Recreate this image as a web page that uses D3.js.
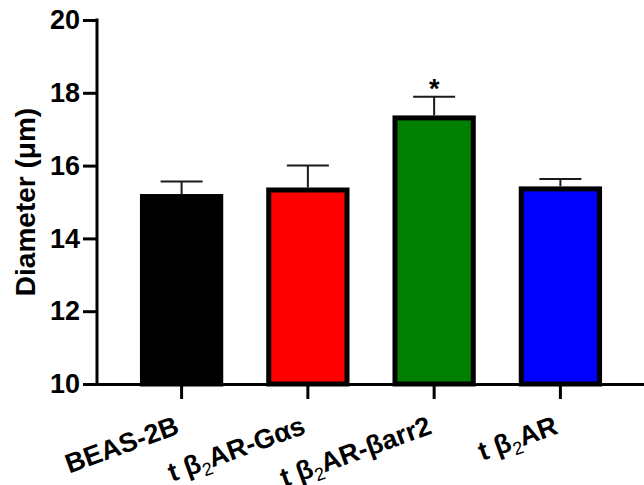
<!DOCTYPE html>
<html>
<head>
<meta charset="utf-8">
<script src="https://cdn.jsdelivr.net/npm/d3@7"></script>
<style>
  body { margin: 0; background: #fff; }
  text { font-family: Arial, "Liberation Sans", sans-serif; font-weight: bold; }
</style>
</head>
<body>
<div id="chart"></div>
<script>
// data
const categories = ["BEAS-2B", "t β2AR-Gαs", "t β2AR-βarr2", "t β2AR"];
// label pieces: [before subscript, subscript, after]
const labelParts = [["BEAS-2B", "", ""], ["t β", "2", "AR-Gαs"], ["t β", "2", "AR-βarr2"], ["t β", "2", "AR"]];
const means = [15.15, 15.33, 17.31, 15.36];
const errors = [0.41, 0.67, 0.58, 0.27];
const barColors = ["#000000", "#ff0000", "#007f00", "#0000ff"];
const significance = ["", "", "*", ""];
const yTicks = [10, 12, 14, 16, 18, 20];

const width = 644, height = 485;

const svg = d3.select("#chart").append("svg")
  .attr("width", width)
  .attr("height", height);

const x = d3.scaleBand()
  .domain(categories)
  .range([97, 645])
  .paddingInner(0.38)
  .paddingOuter(0.36);

const y = d3.scaleLinear()
  .domain([10, 20])
  .range([384, 20]);

// bars
svg.append("g")
  .selectAll("rect")
  .data(categories)
  .enter()
  .append("rect")
  .attr("x", d => x(d))
  .attr("y", (d, i) => y(means[i]))
  .attr("width", x.bandwidth())
  .attr("height", (d, i) => y(10) - y(means[i]))
  .attr("fill", (d, i) => barColors[i])
  .attr("stroke", "#000")
  .attr("stroke-width", 5);

// error bars (upper only)
const capW = 42;
const eb = svg.append("g").attr("stroke", "#1a1a1a").attr("stroke-width", 2);
categories.forEach((d, i) => {
  const cx = x(d) + x.bandwidth() / 2;
  eb.append("line")
    .attr("x1", cx).attr("x2", cx)
    .attr("y1", y(means[i]) - 2.5).attr("y2", y(means[i] + errors[i]));
  eb.append("line")
    .attr("x1", cx - capW / 2).attr("x2", cx + capW / 2)
    .attr("y1", y(means[i] + errors[i])).attr("y2", y(means[i] + errors[i]));
});

// significance
svg.append("g")
  .selectAll("text")
  .data(categories)
  .enter()
  .append("text")
  .attr("x", d => x(d) + x.bandwidth() / 2)
  .attr("y", (d, i) => y(means[i] + errors[i]) + 1)
  .attr("text-anchor", "middle")
  .style("font-size", "27px")
  .text((d, i) => significance[i]);

// y axis
const yAxis = svg.append("g")
  .attr("transform", "translate(97,0)")
  .call(d3.axisLeft(y).tickValues(yTicks).tickSize(14).tickSizeOuter(0).tickPadding(3));
yAxis.select(".domain").attr("stroke-width", 3).attr("d", "M0," + (y(20) - 1.5) + "V" + (y(10) + 1.5));
yAxis.selectAll(".tick line").attr("stroke-width", 3);
yAxis.selectAll(".tick text")
  .style("font-size", "27px")
  .style("font-family", "Arial, 'Liberation Sans', sans-serif")
  .attr("fill", "#000");

// x axis
const xAxis = svg.append("g")
  .attr("transform", "translate(0,384)")
  .call(d3.axisBottom(x).tickSize(15).tickSizeOuter(0));
xAxis.select(".domain").attr("stroke-width", 3);
xAxis.selectAll(".tick line").attr("stroke-width", 3);
xAxis.selectAll(".tick text").remove();

// x labels, rotated
const labelG = svg.append("g")
  .selectAll("g")
  .data(categories)
  .enter()
  .append("g")
  .attr("transform", d => "translate(" + (x(d) + x.bandwidth() / 2 - 1) + ",433) rotate(-20)");
labelG.each(function (d, i) {
  const t = d3.select(this).append("text")
    .attr("text-anchor", "end")
    .style("font-size", "27px");
  const p = labelParts[i];
  t.append("tspan").text(p[0]);
  if (p[1]) {
    t.append("tspan").attr("dy", 6).style("font-size", "18px").style("font-weight", "normal").text(p[1]);
    t.append("tspan").attr("dy", -6).text(p[2]);
  }
});

// y title
svg.append("text")
  .attr("transform", "translate(35,202) rotate(-90)")
  .attr("text-anchor", "middle")
  .style("font-size", "28px")
  .text("Diameter (μm)");
</script>
</body>
</html>
